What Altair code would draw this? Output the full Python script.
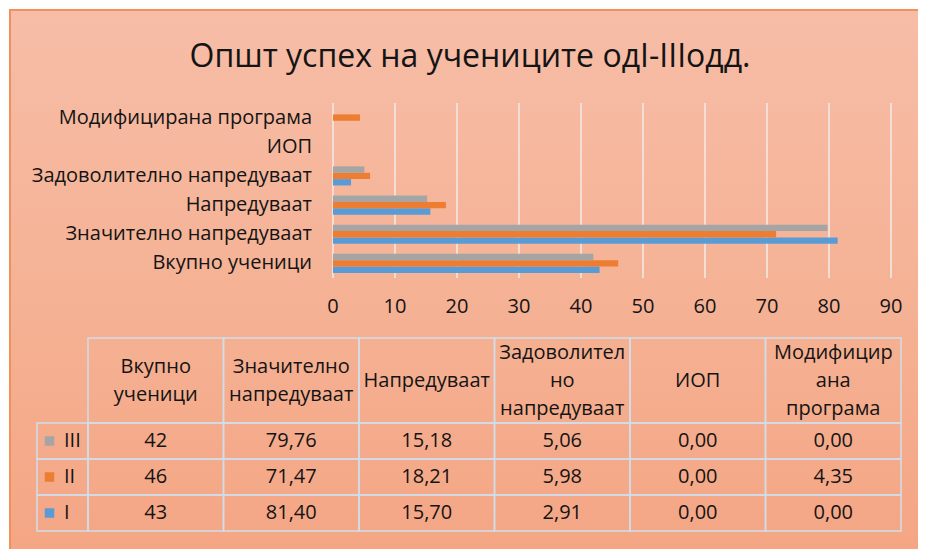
import altair as alt
import pandas as pd

# ---------------- data ----------------
title_text = "Општ успех на учениците одI-IIIодд."
categories = ["Вкупно ученици", "Значително напредуваат", "Напредуваат",
              "Задоволително напредуваат", "ИОП", "Модифицирана програма"]
header_lines = [["Вкупно", "ученици"], ["Значително", "напредуваат"], ["Напредуваат"],
                ["Задоволител", "но", "напредуваат"], ["ИОП"], ["Модифицир", "ана", "програма"]]
series = ["I", "II", "III"]
values_I = [43, 81.40, 15.70, 2.91, 0.00, 0.00]
values_II = [46, 71.47, 18.21, 5.98, 0.00, 4.35]
values_III = [42, 79.76, 15.18, 5.06, 0.00, 0.00]
colors = ["#5B9BD5", "#ED7D31", "#A5A5A5"]
x_ticks = [0, 10, 20, 30, 40, 50, 60, 70, 80, 90]


def fmt(cat, v):
    if cat == categories[0]:
        return f"{v:.0f}"
    return f"{v:.2f}".replace(".", ",")


rows = []
for s, vals in zip(series, [values_I, values_II, values_III]):
    for c, v in zip(categories, vals):
        rows.append({"category": c, "series": s, "value": v, "label": fmt(c, v)})
df = pd.DataFrame(rows)
ticks_df = pd.DataFrame({"t": x_ticks})
head_df = pd.DataFrame({"category": categories, "lines": header_lines})
row_df = pd.DataFrame({"series": ["III", "II", "I"]})

# ---------------- layout ----------------
W, H = 910, 541
FONT = "Open Sans"
TXT = "#141414"
GRID = "#F3DDD4"
TBL = "#D0DEEC"
LH = 28  # header line height

xs = alt.Scale(domain=[0, 90], range=[325, 883])
ys = alt.Scale(type="band", domain=categories[::-1], range=[95, 270],
               paddingInner=0.345, paddingOuter=0.1725)
yoff = alt.Scale(domain=["III", "II", "I"], paddingInner=0, paddingOuter=0)
cs = alt.Scale(domain=series, range=colors)
col_s = alt.Scale(type="band", domain=categories, range=[80, 893], paddingInner=0, paddingOuter=0)
row_s = alt.Scale(type="band", domain=["III", "II", "I"], range=[415, 523],
                  paddingInner=0, paddingOuter=0)
# first-line position of a header block, so that the block is centred in the header row
head_center = 372.5
nl_s = alt.Scale(domain=[1, 3], range=[head_center, head_center - LH])

one = alt.Data(values=[{}])

bg = alt.Chart(one).mark_rect(
    fill=alt.Gradient(gradient="linear", x1=0, x2=0, y1=0, y2=1,
                      stops=[alt.GradientStop(color="#F7BDA7", offset=0),
                             alt.GradientStop(color="#F5B295", offset=0.5),
                             alt.GradientStop(color="#F4A583", offset=1)]),
    stroke="#F0905A", strokeWidth=2,
).encode(x=alt.value(2), x2=alt.value(W + 20), y=alt.value(2), y2=alt.value(H + 20))

title = alt.Chart(one).mark_text(
    text=title_text, font=FONT, fontSize=32, color=TXT, align="center", baseline="alphabetic"
).encode(x=alt.value(462), y=alt.value(59))

grid = alt.Chart(ticks_df).mark_rule(color=GRID, strokeWidth=2).encode(
    x=alt.X("t:Q", scale=xs, axis=None), y=alt.value(95), y2=alt.value(270))

tick_lbl = alt.Chart(ticks_df).mark_text(
    font=FONT, fontSize=20, color=TXT, baseline="alphabetic", align="center"
).encode(x=alt.X("t:Q", scale=xs, axis=None), y=alt.value(305), text="t:Q")

bars = alt.Chart(df).mark_bar().encode(
    x=alt.X("value:Q", scale=xs, axis=None),
    y=alt.Y("category:N", scale=ys, axis=None),
    yOffset=alt.YOffset("series:N", scale=yoff),
    color=alt.Color("series:N", scale=cs, legend=None),
)

cat_lbl = alt.Chart(head_df).mark_text(
    font=FONT, fontSize=20, color=TXT, align="right", baseline="middle"
).encode(x=alt.value(304),
         y=alt.Y("category:N", scale=ys, axis=None, bandPosition=0.5),
         text="category:N")

cells = alt.Chart(df).mark_rect(fillOpacity=0, stroke=TBL, strokeWidth=1.5).encode(
    x=alt.X("category:N", scale=col_s, axis=None),
    y=alt.Y("series:N", scale=row_s, axis=None))

head_cells = alt.Chart(head_df).mark_rect(fillOpacity=0, stroke=TBL, strokeWidth=1.5).encode(
    x=alt.X("category:N", scale=col_s, axis=None), y=alt.value(330), y2=alt.value(415))

head_txt = alt.Chart(head_df).transform_calculate(
    nl="length(datum.lines)"
).mark_text(
    font=FONT, fontSize=20, color=TXT, align="center", baseline="middle", lineHeight=LH
).encode(x=alt.X("category:N", scale=col_s, axis=None, bandPosition=0.5),
         y=alt.Y("nl:Q", scale=nl_s, axis=None), text="lines")

cell_txt = alt.Chart(df).mark_text(
    font=FONT, fontSize=20, color=TXT, align="center", baseline="middle"
).encode(x=alt.X("category:N", scale=col_s, axis=None, bandPosition=0.5),
         y=alt.Y("series:N", scale=row_s, axis=None, bandPosition=0.5),
         text="label:N")

row_cells = alt.Chart(row_df).mark_rect(fillOpacity=0, stroke=TBL, strokeWidth=1.5).encode(
    x=alt.value(29), x2=alt.value(80),
    y=alt.Y("series:N", scale=row_s, axis=None))

row_sq = alt.Chart(row_df).mark_square(size=90, opacity=1).encode(
    x=alt.value(41.5),
    y=alt.Y("series:N", scale=row_s, axis=None, bandPosition=0.5),
    color=alt.Color("series:N", scale=cs, legend=None))

row_txt = alt.Chart(row_df).mark_text(
    font=FONT, fontSize=20, color=TXT, align="left", baseline="middle"
).encode(x=alt.value(56),
         y=alt.Y("series:N", scale=row_s, axis=None, bandPosition=0.5),
         text="series:N")

chart = alt.layer(
    bg, title, grid, tick_lbl, bars, cat_lbl,
    cells, head_cells, head_txt, cell_txt, row_cells, row_sq, row_txt
).resolve_scale(x="independent", y="independent").properties(
    width=W, height=H, autosize=alt.AutoSizeParams(type="none"), padding=0,
    background="white"
).configure_view(stroke=None)

chart.save("out.html", embed_options={"renderer": "svg", "actions": False})
